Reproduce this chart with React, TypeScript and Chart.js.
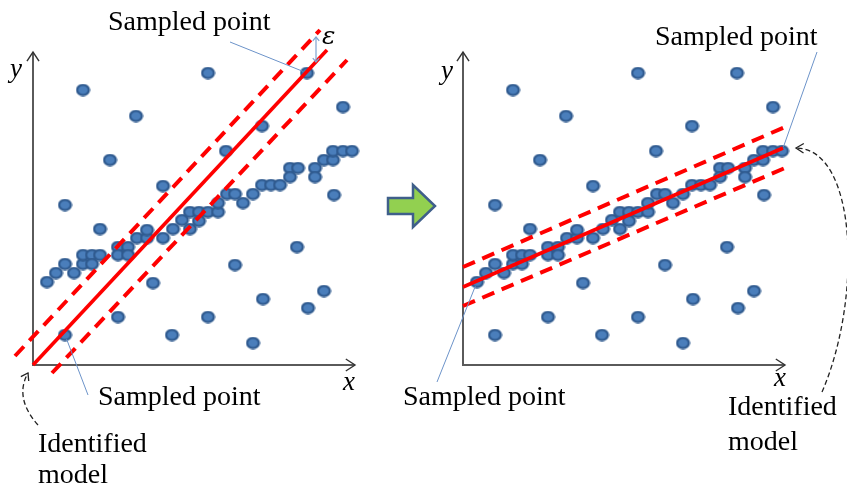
import React, { useEffect, useRef } from "react";
import { Chart, registerables } from "chart.js";
Chart.register(...registerables);

// ---- data (axis units) ----
const outliers: [number, number][] = [
  [5.0, 27.5], [17.5, 29.2], [27.4, 29.2], [10.3, 24.9], [31.0, 25.8], [7.7, 20.5],
  [22.9, 23.9], [19.3, 21.4], [13.0, 17.9], [3.2, 16.0], [6.7, 13.6], [26.4, 11.8],
  [20.2, 10.0], [29.1, 7.4], [23.0, 6.6], [27.5, 5.7], [12.0, 8.2], [8.5, 4.8],
  [17.5, 4.8], [3.2, 3.0], [13.9, 3.0], [22.0, 2.2], [30.1, 17.0],
];
const inliers: [number, number][] = [
  [1.4, 8.3], [2.3, 9.2], [3.2, 10.1], [4.1, 9.2], [5.0, 10.1], [5.0, 11.0], [5.9, 11.0],
  [5.9, 10.1], [6.7, 11.0], [8.5, 11.8], [9.5, 11.8], [8.5, 11.0], [9.5, 11.0], [10.4, 12.7],
  [11.4, 12.7], [11.4, 13.5], [13.0, 12.7], [14.0, 13.6], [14.9, 14.5], [15.7, 15.3],
  [15.7, 13.6], [16.6, 15.3], [16.6, 14.4], [17.5, 15.3], [18.5, 15.3], [18.5, 16.2],
  [19.4, 17.1], [20.2, 17.1], [21.0, 16.2], [22.0, 17.1], [22.9, 18.0], [23.8, 18.0],
  [24.7, 18.0], [25.7, 19.7], [25.7, 18.8], [26.5, 19.7], [28.2, 19.7], [28.2, 18.8],
  [29.1, 20.5], [30.0, 20.5], [30.0, 21.4], [31.0, 21.4], [31.9, 21.4],
];
const axisMaxX = 32.2;
const axisMaxY = 31.3;

const leftModel: [number, number][] = [[0, 0], [29.4, 31.5]];
const leftUpper: [number, number][] = [[-1.8, 0.9], [28.7, 33.5]];
const leftLower: [number, number][] = [[1.9, -0.8], [31.4, 30.5]];
const leftSampled: [number, number][] = [[3.2, 3.0], [27.4, 29.2]];

const rightModel: [number, number][] = [[0, 7.8], [32.0, 21.7]];
const rightUpper: [number, number][] = [[0, 9.8], [32.2, 23.8]];
const rightLower: [number, number][] = [[0, 5.9], [32.2, 19.7]];
const rightSampled: [number, number][] = [[1.4, 8.3], [31.9, 21.4]];

const TEXT_SAMPLED = "Sampled point";
const TEXT_ID1 = "Identified";
const TEXT_ID2 = "model";

const W = 847;
const H = 488;
const FONT = '28px "Liberation Serif", "Times New Roman", serif';
const IFONT = 'italic 27px "Liberation Serif", "Times New Roman", serif';
const LEADER = "#6C93C9";

function makeDot(): HTMLCanvasElement {
  const c = document.createElement("canvas");
  c.width = 15;
  c.height = 13;
  const g = c.getContext("2d")!;
  g.beginPath();
  g.ellipse(7.5, 6.5, 5.9, 5.1, 0, 0, Math.PI * 2);
  g.fillStyle = "#4A7EBB";
  g.fill();
  g.lineWidth = 2.3;
  g.strokeStyle = "#2F5A8F";
  g.stroke();
  return c;
}

function chevron(ctx: CanvasRenderingContext2D, tx: number, ty: number, ang: number, len: number, spread: number) {
  ctx.beginPath();
  ctx.moveTo(tx - len * Math.cos(ang - spread), ty - len * Math.sin(ang - spread));
  ctx.lineTo(tx, ty);
  ctx.lineTo(tx - len * Math.cos(ang + spread), ty - len * Math.sin(ang + spread));
  ctx.stroke();
}

function line(ctx: CanvasRenderingContext2D, x1: number, y1: number, x2: number, y2: number) {
  ctx.beginPath();
  ctx.moveTo(x1, y1);
  ctx.lineTo(x2, y2);
  ctx.stroke();
}

function leader(ctx: CanvasRenderingContext2D, x1: number, y1: number, px: number, py: number) {
  const dx = px - x1, dy = py - y1;
  const d = Math.hypot(dx, dy);
  const k = (d - 4.5) / d;
  ctx.save();
  ctx.strokeStyle = LEADER;
  ctx.lineWidth = 1;
  line(ctx, x1, y1, x1 + dx * k, y1 + dy * k);
  ctx.restore();
}

function txt(ctx: CanvasRenderingContext2D, s: string, x: number, y: number, font = FONT) {
  ctx.save();
  ctx.font = font;
  ctx.fillStyle = "#000";
  ctx.textAlign = "left";
  ctx.textBaseline = "alphabetic";
  ctx.fillText(s, x, y);
  ctx.restore();
}

function axesPlugin(id: string) {
  return {
    id,
    beforeDatasetsDraw(chart: any) {
      const ctx: CanvasRenderingContext2D = chart.ctx;
      const xs = chart.scales.x, ys = chart.scales.y;
      const ox = xs.getPixelForValue(0), oy = ys.getPixelForValue(0);
      const ex = xs.getPixelForValue(axisMaxX), ey = ys.getPixelForValue(axisMaxY);
      ctx.save();
      ctx.strokeStyle = "#5A5A5A";
      ctx.lineWidth = 2;
      line(ctx, ox, oy, ox, ey);
      line(ctx, ox - 1, oy, ex, oy);
      ctx.strokeStyle = "#333";
      ctx.lineWidth = 1.4;
      chevron(ctx, ox, ey, -Math.PI / 2, 11, 0.58);
      chevron(ctx, ex, oy, 0, 11, 0.58);
      ctx.restore();
    },
  };
}

function makeConfig(model: [number, number][], upper: [number, number][], lower: [number, number][], pad: any, extra: any) {
  const dot = makeDot();
  const toXY = (a: [number, number][]) => a.map(([x, y]) => ({ x, y }));
  const lineDs = (a: [number, number][], dash: number[], w: number) => ({
    type: "line",
    data: toXY(a),
    borderColor: "#FF0000",
    borderWidth: w,
    borderDash: dash,
    borderCapStyle: "butt",
    pointRadius: 0,
    showLine: true,
    fill: false,
    tension: 0,
    clip: false,
  });
  return {
    type: "scatter",
    data: {
      datasets: [
        lineDs(model, [], 3.6),
        lineDs(upper, [13, 8], 4),
        lineDs(lower, [13, 8], 4),
        {
          type: "scatter",
          data: toXY([...outliers, ...inliers]),
          pointStyle: dot,
          pointRadius: 6,
          showLine: false,
          clip: false,
        },
      ],
    },
    options: {
      responsive: false,
      animation: false,
      events: [],
      layout: { padding: pad },
      scales: {
        x: { type: "linear", min: 0, max: axisMaxX, display: false },
        y: { type: "linear", min: 0, max: axisMaxY, display: false },
      },
      plugins: { legend: { display: false }, tooltip: { enabled: false } },
    },
    plugins: [axesPlugin("axes" + pad.left), extra],
  } as any;
}

const leftAnnot = {
  id: "leftAnnot",
  afterDraw(chart: any) {
    const ctx: CanvasRenderingContext2D = chart.ctx;
    const xs = chart.scales.x, ys = chart.scales.y;
    const sp = leftSampled.map(([x, y]) => [xs.getPixelForValue(x), ys.getPixelForValue(y)]);
    txt(ctx, TEXT_SAMPLED, 108, 30);
    leader(ctx, 230, 42, sp[1][0], sp[1][1]);
    txt(ctx, TEXT_SAMPLED, 98, 405);
    leader(ctx, 88, 395, sp[0][0], sp[0][1]);
    ctx.save();
    ctx.strokeStyle = "#7FA3D0";
    ctx.lineWidth = 1.2;
    line(ctx, 316, 38, 316, 61);
    chevron(ctx, 316, 37, -Math.PI / 2, 5, 0.7);
    chevron(ctx, 316, 62, Math.PI / 2, 5, 0.7);
    ctx.restore();
    txt(ctx, "ε", 322, 44, 'italic 25px "DejaVu Serif", "Liberation Serif", serif');
    txt(ctx, "y", 10, 77, IFONT);
    txt(ctx, "x", 343, 390, IFONT);
    txt(ctx, TEXT_ID1, 38, 452);
    txt(ctx, TEXT_ID2, 38, 483);
    ctx.save();
    ctx.strokeStyle = "#222";
    ctx.lineWidth = 1.3;
    ctx.setLineDash([5, 3]);
    ctx.beginPath();
    ctx.moveTo(38, 425);
    ctx.quadraticCurveTo(14, 398, 28, 373);
    ctx.stroke();
    ctx.setLineDash([]);
    chevron(ctx, 28, 373, Math.atan2(373 - 398, 28 - 14), 8, 0.6);
    ctx.restore();
    ctx.save();
    ctx.beginPath();
    ctx.moveTo(388, 198);
    ctx.lineTo(413, 198);
    ctx.lineTo(413, 185);
    ctx.lineTo(435, 206);
    ctx.lineTo(413, 227);
    ctx.lineTo(413, 214);
    ctx.lineTo(388, 214);
    ctx.closePath();
    ctx.fillStyle = "#92D050";
    ctx.fill();
    ctx.strokeStyle = "#3F5F8A";
    ctx.lineWidth = 2.5;
    ctx.lineJoin = "miter";
    ctx.stroke();
    ctx.restore();
  },
};

const rightAnnot = {
  id: "rightAnnot",
  afterDraw(chart: any) {
    const ctx: CanvasRenderingContext2D = chart.ctx;
    const xs = chart.scales.x, ys = chart.scales.y;
    const sp = rightSampled.map(([x, y]) => [xs.getPixelForValue(x), ys.getPixelForValue(y)]);
    txt(ctx, TEXT_SAMPLED, 655, 45);
    leader(ctx, 817, 52, sp[1][0], sp[1][1]);
    txt(ctx, TEXT_SAMPLED, 403, 405);
    leader(ctx, 437, 382, sp[0][0], sp[0][1]);
    txt(ctx, "y", 441, 79, IFONT);
    txt(ctx, "x", 774, 386, IFONT);
    txt(ctx, TEXT_ID1, 728, 415);
    txt(ctx, TEXT_ID2, 728, 450);
    ctx.save();
    ctx.strokeStyle = "#222";
    ctx.lineWidth = 1.3;
    ctx.setLineDash([5, 3]);
    ctx.beginPath();
    ctx.moveTo(822, 392);
    ctx.bezierCurveTo(862, 300, 858, 150, 797, 148);
    ctx.stroke();
    ctx.setLineDash([]);
    chevron(ctx, 796, 148, Math.atan2(148 - 150, 797 - 858), 9, 0.55);
    ctx.restore();
  },
};

export default function App() {
  const leftRef = useRef<HTMLCanvasElement>(null);
  const rightRef = useRef<HTMLCanvasElement>(null);
  useEffect(() => {
    const a = new Chart(
      leftRef.current!,
      makeConfig(leftModel, leftUpper, leftLower, { left: 33, right: W - 355, top: 52, bottom: H - 365 }, leftAnnot)
    );
    const b = new Chart(
      rightRef.current!,
      makeConfig(rightModel, rightUpper, rightLower, { left: 463, right: W - 785, top: 52, bottom: H - 365 }, rightAnnot)
    );
    return () => {
      a.destroy();
      b.destroy();
    };
  }, []);
  const cs: React.CSSProperties = { position: "absolute", left: 0, top: 0, width: W, height: H };
  return (
    <div style={{ position: "absolute", left: 0, top: 0, width: W, height: H, background: "#fff", overflow: "hidden" }}>
      <canvas ref={leftRef} width={W} height={H} style={cs} />
      <canvas ref={rightRef} width={W} height={H} style={cs} />
    </div>
  );
}
